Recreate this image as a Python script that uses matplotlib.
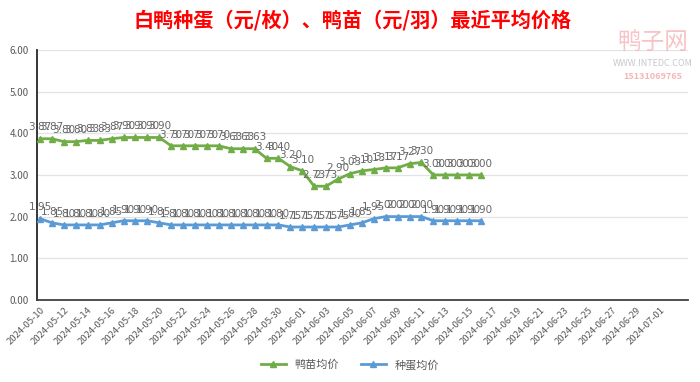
import pandas as pd
import matplotlib.pyplot as plt
import matplotlib.dates as mdates

plt.rcParams['font.family'] = ['Noto Sans CJK SC', 'DejaVu Sans']

# daily prices, 2024-05-10 .. 2024-06-16
dates = pd.date_range('2024-05-10', '2024-06-16', freq='D')
duckling = [3.87, 3.87, 3.80, 3.80, 3.83, 3.83, 3.87, 3.90, 3.90, 3.90, 3.90,
            3.70, 3.70, 3.70, 3.70, 3.70, 3.63, 3.63, 3.63, 3.40, 3.40, 3.20,
            3.10, 2.73, 2.73, 2.90, 3.03, 3.10, 3.13, 3.17, 3.17, 3.27, 3.30,
            3.00, 3.00, 3.00, 3.00, 3.00]
eggs = [1.95, 1.85, 1.80, 1.80, 1.80, 1.80, 1.85, 1.90, 1.90, 1.90, 1.85,
        1.80, 1.80, 1.80, 1.80, 1.80, 1.80, 1.80, 1.80, 1.80, 1.80, 1.75,
        1.75, 1.75, 1.75, 1.75, 1.80, 1.85, 1.95, 2.00, 2.00, 2.00, 2.00,
        1.90, 1.90, 1.90, 1.90, 1.90]
series_names = ['鸭苗均价', '种蛋均价']
colors = ['#70AD47', '#5B9BD5']

fig = plt.figure(figsize=(7, 3.82), dpi=100)
ax = fig.add_axes([0.053, 0.215, 0.930, 0.654])

for vals, name, c in zip([duckling, eggs], series_names, colors):
    ax.plot(dates, vals, color=c, lw=2.0, marker='^', markersize=4.5,
            label=name, zorder=3)
    for d, v in zip(dates, vals):
        ax.annotate(f'{v:.2f}', (d, v), xytext=(0, 4.5), textcoords='offset points',
                    ha='center', va='bottom', fontsize=7.5, color='#666666',
                    family=['DejaVu Sans'])

ax.set_ylim(0, 6)
ax.set_yticks(range(0, 7))
ax.yaxis.set_major_formatter(plt.FuncFormatter(lambda v, p: f'{v:.2f}'))
ax.set_xlim(pd.Timestamp('2024-05-09 18:00'), pd.Timestamp('2024-07-03 09:00'))
ticks = pd.date_range('2024-05-10', '2024-07-01', freq='2D')
ax.set_xticks(ticks)
ax.xaxis.set_major_formatter(mdates.DateFormatter('%Y-%m-%d'))
plt.setp(ax.get_xticklabels(), rotation=45, ha='right', rotation_mode='anchor')
ax.tick_params(axis='x', labelsize=6.8, colors='#595959', length=0, pad=4)
ax.tick_params(axis='y', labelsize=7, colors='#595959', length=0, pad=6)

ax.grid(axis='y', color='#E3E3E3', lw=0.9)
ax.set_axisbelow(True)
for s in ['top', 'right']:
    ax.spines[s].set_visible(False)
ax.spines['left'].set_color('#262626')
ax.spines['left'].set_linewidth(1.3)
ax.spines['bottom'].set_color('#404040')
ax.spines['bottom'].set_linewidth(1.3)

fig.text(0.503, 0.948, '白鸭种蛋（元/枚）、鸭苗（元/羽）最近平均价格',
         ha='center', va='center', fontsize=14.5, fontweight='bold', color='#FF0000')

# watermark
fig.text(0.932, 0.89, '鸭子网', ha='center', va='center', fontsize=17,
         color='#F4B6B6', alpha=0.8)
fig.text(0.932, 0.835, 'WWW.INTEDC.COM', ha='center', va='center', fontsize=6.5,
         color='#C8C8C8')
fig.text(0.932, 0.80, '15131069765', ha='center', va='center', fontsize=6.5,
         color='#F4B6B6', fontweight='bold')

fig.legend(loc='center', bbox_to_anchor=(0.5, 0.045), ncol=2, frameon=False,
           fontsize=8, handlelength=2.2, columnspacing=2.0,
           labelcolor='#595959')

fig.savefig('out.png', dpi=100)
